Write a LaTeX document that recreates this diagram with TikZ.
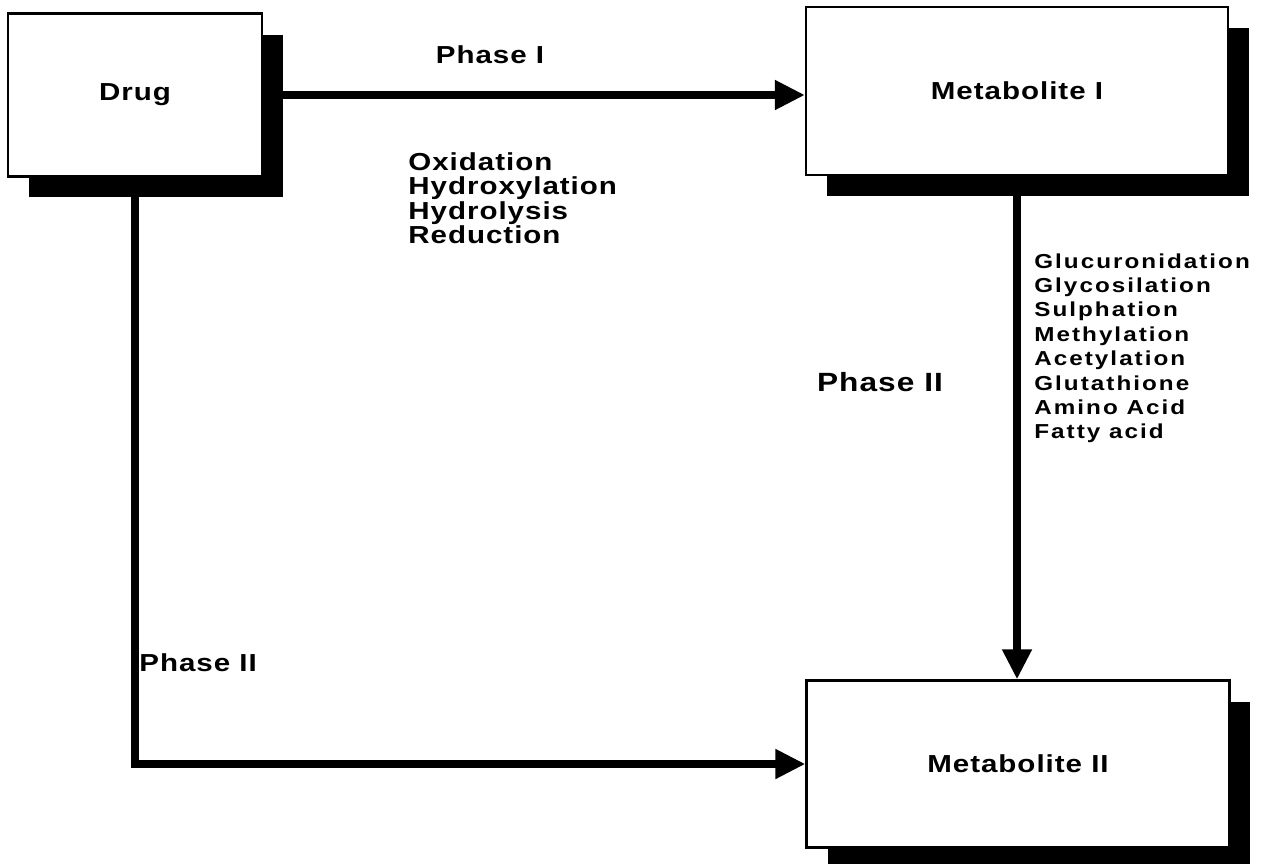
\documentclass[tikz,border=0pt]{standalone}
\usepackage{fontspec}
\setmainfont{Liberation Sans}[FakeStretch=1.2, LetterSpace=4]
\newfontfamily\listfont{Liberation Sans}[FakeStretch=1.2, LetterSpace=10]
\usetikzlibrary{arrows.meta, positioning, calc, shadows}
\definecolor{ink}{HTML}{000000}

\begin{document}
\begin{tikzpicture}[x=0.02cm, y=-0.02cm,
  >={Triangle[length=6mm, width=5.6mm]},
  metbox/.style={draw=ink, line width=1.3pt, fill=white, inner sep=2pt,
    font=\fontsize{14}{16}\selectfont\bfseries, text=ink,
    drop shadow={shadow xshift=4.2mm, shadow yshift=-4.2mm, fill=ink, opacity=1}},
  arr/.style={->, line width=4.5pt, ink},
  lbl/.style={font=\fontsize{14}{13.9}\selectfont\bfseries, text=ink, inner sep=0pt},
]

% Page frame
\useasboundingbox (0,0) rectangle (1264,863);

% =============================================
% Boxes: drug and its two metabolites
% =============================================
\node[metbox, minimum width=5.08cm, minimum height=3.26cm] (drug) at (135,95)
  {Drug};
\node[metbox, minimum width=8.44cm, minimum height=3.36cm] (met1) at (1017,91)
  {Metabolite I};
\node[metbox, minimum width=8.46cm, minimum height=3.34cm] (met2) at (1018,764)
  {Metabolite II};

% =============================================
% Pathways
% =============================================
% Phase I
\draw[arr] (drug.east) -- (drug.east -| met1.west);
% Phase II after Phase I
\draw[arr] (met1.south) -- (met1.south |- met2.north);
% Phase II directly
\draw[arr] (drug.south) |- (met2.west);

% =============================================
% Labels
% =============================================
\node[lbl] (ph1) at (490,55) {Phase I};

\node[lbl, anchor=north west, align=left] (ph1list) at (408,152)
  {Oxidation\\Hydroxylation\\Hydrolysis\\Reduction};

\node[lbl, font=\fontsize{15}{17}\selectfont\bfseries] (ph2) at (880,382) {Phase II};

\node[lbl, font=\listfont\fontsize{11.5}{13.9}\selectfont\bfseries,
  anchor=north west, align=left] (ph2list) at (1034,253)
  {Glucuronidation\\Glycosilation\\Sulphation\\Methylation\\Acetylation\\%
   Glutathione\\Amino Acid\\Fatty acid};

\node[lbl, anchor=west] (ph2b) at (139,663) {Phase II};

\end{tikzpicture}
\end{document}
